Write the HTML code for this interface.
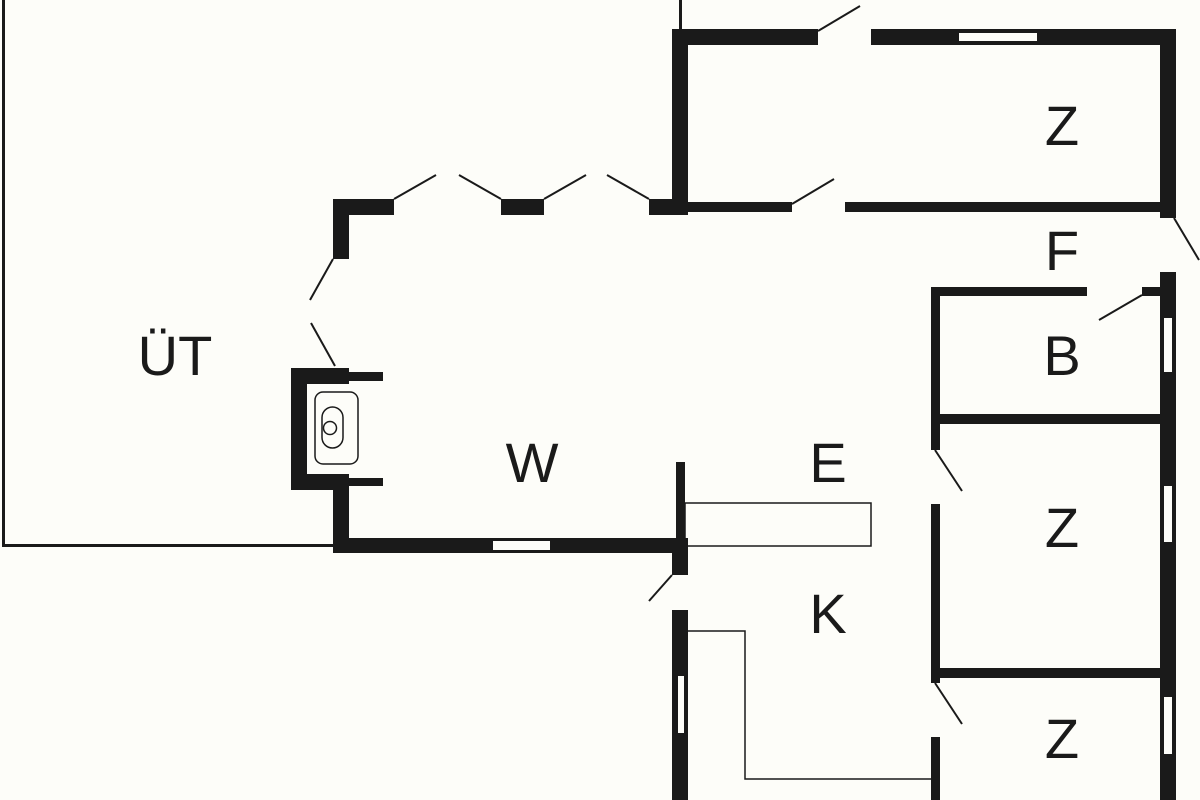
<!DOCTYPE html>
<html><head><meta charset="utf-8"><style>
html,body{margin:0;padding:0;background:#fdfdf9;}
svg{display:block}
text{font-family:"Liberation Sans",sans-serif;font-size:56px;fill:#1a1a1a;text-anchor:middle}
</style></head><body>
<svg width="1200" height="800" viewBox="0 0 1200 800" xmlns="http://www.w3.org/2000/svg">
<rect width="1200" height="800" fill="#fdfdf9"/>
<g fill="#1a1a1a" stroke="none">
<!-- ÜT outline -->
<rect x="2" y="0" width="3" height="547"/>
<rect x="2" y="544" width="333" height="3"/>
<rect x="679" y="0" width="3" height="31"/>
<!-- top Z -->
<rect x="672" y="29" width="146" height="16"/>
<rect x="871" y="29" width="305" height="16"/>
<rect x="672" y="29" width="16" height="186"/>
<rect x="1160" y="29" width="16" height="189"/>
<rect x="649" y="199" width="39" height="16"/>
<rect x="688" y="202" width="104" height="10"/>
<rect x="845" y="202" width="315" height="10"/>
<!-- W room -->
<rect x="333" y="199" width="61" height="16"/>
<rect x="501" y="199" width="43" height="16"/>
<rect x="333" y="199" width="16" height="60"/>
<rect x="291" y="368" width="58" height="16"/>
<rect x="349" y="372" width="34" height="9"/>
<rect x="291" y="368" width="16" height="122"/>
<rect x="291" y="474" width="58" height="16"/>
<rect x="349" y="478" width="34" height="8"/>
<rect x="333" y="474" width="16" height="79"/>
<rect x="333" y="538" width="355" height="15"/>
<rect x="676" y="462" width="9" height="76"/>
<rect x="672" y="538" width="16" height="37"/>
<rect x="672" y="610" width="16" height="190"/>
<!-- right side -->
<rect x="1160" y="272" width="16" height="528"/>
<rect x="931" y="287" width="156" height="9"/>
<rect x="1142" y="287" width="18" height="9"/>
<rect x="931" y="287" width="9" height="163"/>
<rect x="931" y="504" width="9" height="179"/>
<rect x="931" y="737" width="9" height="63"/>
<rect x="931" y="414" width="229" height="10"/>
<rect x="931" y="668" width="229" height="10"/>
</g>
<!-- windows -->
<g fill="#fdfdf9">
<rect x="959" y="33" width="78" height="8"/>
<rect x="493" y="541" width="57" height="9"/>
<rect x="678" y="676" width="6" height="57"/>
<rect x="1164" y="318" width="8" height="54"/>
<rect x="1164" y="486" width="8" height="56"/>
<rect x="1164" y="697" width="8" height="57"/>
</g>
<!-- door swings & thin lines -->
<g stroke="#1a1a1a" stroke-width="2" fill="none">
<line x1="818" y1="31" x2="860" y2="6"/>
<line x1="792" y1="204" x2="834" y2="179"/>
<line x1="1174" y1="218" x2="1199" y2="260"/>
<line x1="1142" y1="295" x2="1099" y2="320"/>
<line x1="394" y1="199" x2="436" y2="175"/>
<line x1="501" y1="199" x2="459" y2="175"/>
<line x1="544" y1="199" x2="586" y2="175"/>
<line x1="649" y1="199" x2="607" y2="175"/>
<line x1="333" y1="259" x2="310" y2="300"/>
<line x1="335" y1="366" x2="311" y2="323"/>
<line x1="672" y1="575" x2="649" y2="601"/>
<line x1="935" y1="450" x2="962" y2="491"/>
<line x1="935" y1="683" x2="962" y2="724"/>
</g>
<g stroke="#1a1a1a" stroke-width="1.5" fill="none">
<rect x="685" y="503" width="186" height="43"/>
<polyline points="688,631 745,631 745,779 931,779"/>
<rect x="315" y="392" width="43" height="72" rx="8"/>
<rect x="322" y="407" width="21" height="41" rx="10.5"/>
<circle cx="330" cy="428" r="6.5"/>
</g>
<text x="1062" y="145">Z</text>
<text x="1062" y="270">F</text>
<text x="1062" y="375">B</text>
<text x="828" y="482">E</text>
<text x="1062" y="547">Z</text>
<text x="828" y="633">K</text>
<text x="1062" y="758">Z</text>
<text x="532" y="482">W</text>
<text x="175" y="375">ÜT</text>
</svg>
</body></html>
